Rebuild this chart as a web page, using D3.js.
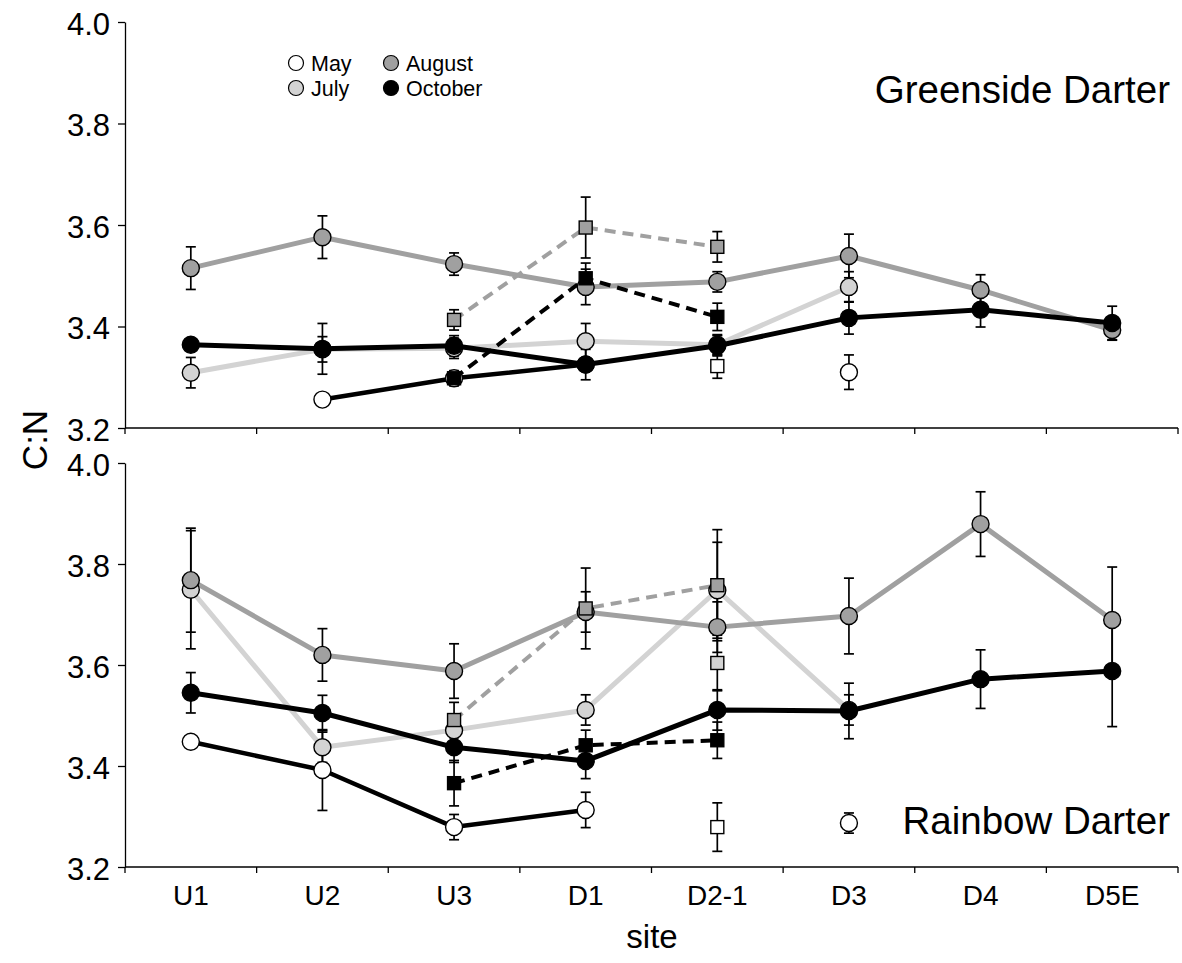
<!DOCTYPE html>
<html>
<head>
<meta charset="utf-8">
<script src="https://cdn.jsdelivr.net/npm/d3@7"></script>
<style>
  body { margin: 0; background: #fff; }
  text { font-family: "Liberation Sans", Arial, sans-serif; fill: #000; }
</style>
</head>
<body>
<div class="chart"></div>
<script>
const width = 1182;
const height = 963;

const sites = ["U1", "U2", "U3", "D1", "D2-1", "D3", "D4", "D5E"];
const yTicks = [3.2, 3.4, 3.6, 3.8, 4.0];

// Greenside Darter (top panel), circles = solid lines
const gdMay = [null, 3.256, 3.298, 3.325, null, 3.310, null, null];
const gdMayErr = [null, 0.006, 0.01, 0.01, null, 0.034, null, null];
const gdJuly = [3.309, 3.355, 3.357, 3.371, 3.364, 3.478, null, null];
const gdJulyErr = [0.03, 0.025, 0.02, 0.035, 0.02, 0.03, null, null];
const gdAug = [3.515, 3.576, 3.523, 3.478, 3.488, 3.539, 3.472, 3.393];
const gdAugErr = [0.042, 0.042, 0.022, 0.035, 0.02, 0.043, 0.03, 0.02];
const gdOct = [3.364, 3.356, 3.362, 3.325, 3.362, 3.417, 3.433, 3.407];
const gdOctErr = [0.01, 0.05, 0.02, 0.03, 0.02, 0.032, 0.034, 0.033];
// squares = dashed lines
const gdMaySq = [null, null, null, null, 3.322, null, null, null];
const gdMaySqErr = [null, null, null, null, 0.024, null, null, null];
const gdAugSq = [null, null, 3.413, 3.595, 3.557, null, null, null];
const gdAugSqErr = [null, null, 0.02, 0.06, 0.03, null, null, null];
const gdOctSq = [null, null, 3.298, 3.495, 3.419, null, null, null];
const gdOctSqErr = [null, null, 0.015, 0.03, 0.027, null, null, null];

// Rainbow Darter (bottom panel)
const rdMay = [3.448, 3.392, 3.279, 3.313, null, 3.287, null, null];
const rdMayErr = [0.005, 0.08, 0.025, 0.035, null, 0.02, null, null];
const rdJuly = [3.749, 3.437, 3.471, 3.511, 3.748, 3.511, null, null];
const rdJulyErr = [0.117, 0.03, 0.03, 0.03, 0.095, 0.03, null, null];
const rdAug = [3.768, 3.620, 3.588, 3.705, 3.675, 3.697, 3.879, 3.689];
const rdAugErr = [0.103, 0.052, 0.054, 0.04, 0.05, 0.075, 0.064, 0.105];
const rdOct = [3.545, 3.505, 3.437, 3.410, 3.511, 3.509, 3.572, 3.588];
const rdOctErr = [0.04, 0.035, 0.03, 0.035, 0.04, 0.055, 0.058, 0.11];
const rdMaySq = [null, null, null, null, 3.279, null, null, null];
const rdMaySqErr = [null, null, null, null, 0.048, null, null, null];
const rdJulySq = [null, null, null, null, 3.604, null, null, null];
const rdJulySqErr = [null, null, null, null, 0.055, null, null, null];
const rdAugSq = [null, null, 3.491, 3.712, 3.758, null, null, null];
const rdAugSqErr = [null, null, 0.035, 0.08, 0.11, null, null, null];
const rdOctSq = [null, null, 3.366, 3.441, 3.451, null, null, null];
const rdOctSqErr = [null, null, 0.045, 0.03, 0.036, null, null, null];

const fills = { May: "#ffffff", July: "#d3d3d3", August: "#a0a0a0", October: "#000000" };
const lineColors = { May: "#000000", July: "#d3d3d3", August: "#a0a0a0", October: "#000000" };

const svg = d3.select(".chart")
              .append("svg")
              .attr("width", width)
              .attr("height", height);

const left = 125;
const right = 1178;

const escalaX = d3.scaleBand().domain(sites).range([left, right]).padding(0);
const cx = (i) => escalaX(sites[i]) + escalaX.bandwidth() / 2;

const panels = [
  {
    top: 22, bottom: 428, title: "Greenside Darter", titleY: 103,
    series: [
      { month: "July", vals: gdJuly, err: gdJulyErr, shape: "circle" },
      { month: "August", vals: gdAug, err: gdAugErr, shape: "circle" },
      { month: "August", vals: gdAugSq, err: gdAugSqErr, shape: "square" },
      { month: "May", vals: gdMay, err: gdMayErr, shape: "circle" },
      { month: "October", vals: gdOct, err: gdOctErr, shape: "circle" },
      { month: "May", vals: gdMaySq, err: gdMaySqErr, shape: "square" },
      { month: "October", vals: gdOctSq, err: gdOctSqErr, shape: "square" },
    ]
  },
  {
    top: 463, bottom: 867, title: "Rainbow Darter", titleY: 834,
    series: [
      { month: "July", vals: rdJuly, err: rdJulyErr, shape: "circle" },
      { month: "August", vals: rdAug, err: rdAugErr, shape: "circle" },
      { month: "August", vals: rdAugSq, err: rdAugSqErr, shape: "square" },
      { month: "May", vals: rdMay, err: rdMayErr, shape: "circle" },
      { month: "October", vals: rdOct, err: rdOctErr, shape: "circle" },
      { month: "July", vals: rdJulySq, err: rdJulySqErr, shape: "square" },
      { month: "May", vals: rdMaySq, err: rdMaySqErr, shape: "square" },
      { month: "October", vals: rdOctSq, err: rdOctSqErr, shape: "square" },
    ]
  }
];

panels.forEach((p, pi) => {
  const escalaY = d3.scaleLinear().domain([3.2, 4.0]).range([p.bottom, p.top]);
  const g = svg.append("g");

  // y axis
  const ejeY = d3.axisLeft(escalaY).tickValues(yTicks).tickFormat(d3.format(".1f"))
                 .tickSize(7).tickSizeOuter(0).tickPadding(8);
  const contY = g.append("g").attr("transform", `translate(${left},0)`).call(ejeY);
  contY.select(".domain").attr("stroke", "#000").attr("stroke-width", 1.3);
  contY.selectAll(".tick line").attr("stroke", "#000").attr("stroke-width", 1.3);
  contY.selectAll("text").attr("font-size", 31).attr("dy", "0.4em")
       .attr("font-family", "Liberation Sans, Arial, sans-serif");

  // x axis line with boundary ticks
  g.append("line").attr("x1", left).attr("x2", right)
   .attr("y1", p.bottom).attr("y2", p.bottom)
   .attr("stroke", "#000").attr("stroke-width", 1.3);
  g.selectAll(".bt").data(d3.range(sites.length + 1)).join("line")
   .attr("class", "bt")
   .attr("x1", (i) => left + i * escalaX.step()).attr("x2", (i) => left + i * escalaX.step())
   .attr("y1", p.bottom).attr("y2", p.bottom + 6)
   .attr("stroke", "#000").attr("stroke-width", 1.3);

  if (pi === 1) {
    g.selectAll(".xl").data(sites).join("text")
     .attr("class", "xl")
     .attr("x", (d, i) => cx(i)).attr("y", p.bottom + 38)
     .attr("text-anchor", "middle").attr("font-size", 28)
     .text((d) => d);
  }

  const line = d3.line()
    .defined((d) => d.v != null)
    .x((d) => cx(d.i))
    .y((d) => escalaY(d.v));

  const toPts = (s) => s.vals.map((v, i) => ({ v, e: s.err[i], i }));

  // lines
  p.series.forEach((s) => {
    g.append("path")
     .datum(toPts(s))
     .attr("d", line)
     .attr("fill", "none")
     .attr("stroke", lineColors[s.month])
     .attr("stroke-width", s.shape === "square" ? 4 : (s.month === "May" ? 4.5 : 5))
     .attr("stroke-dasharray", s.shape === "square" ? "11,7" : null)
     .attr("stroke-linejoin", "round");
  });

  // error bars
  p.series.forEach((s) => {
    const pts = toPts(s).filter((d) => d.v != null && d.e != null);
    const eg = g.append("g").attr("stroke", "#000").attr("stroke-width", 1.7);
    eg.selectAll(".ev").data(pts).join("line").attr("class", "ev")
      .attr("x1", (d) => cx(d.i)).attr("x2", (d) => cx(d.i))
      .attr("y1", (d) => escalaY(d.v - d.e)).attr("y2", (d) => escalaY(d.v + d.e));
    ["+", "-"].forEach((sign) => {
      eg.selectAll(".cap" + (sign === "+" ? "t" : "b")).data(pts).join("line")
        .attr("class", "cap" + (sign === "+" ? "t" : "b"))
        .attr("x1", (d) => cx(d.i) - 5).attr("x2", (d) => cx(d.i) + 5)
        .attr("y1", (d) => escalaY(sign === "+" ? d.v + d.e : d.v - d.e))
        .attr("y2", (d) => escalaY(sign === "+" ? d.v + d.e : d.v - d.e));
    });
  });

  // markers
  p.series.forEach((s) => {
    const pts = toPts(s).filter((d) => d.v != null);
    if (s.shape === "circle") {
      g.append("g").selectAll("circle").data(pts).join("circle")
       .attr("cx", (d) => cx(d.i)).attr("cy", (d) => escalaY(d.v))
       .attr("r", 8.5)
       .attr("fill", fills[s.month]).attr("stroke", "#000").attr("stroke-width", 1.4);
    } else {
      g.append("g").selectAll("rect").data(pts).join("rect")
       .attr("x", (d) => cx(d.i) - 6.5).attr("y", (d) => escalaY(d.v) - 6.5)
       .attr("width", 13).attr("height", 13)
       .attr("fill", fills[s.month]).attr("stroke", "#000").attr("stroke-width", 1.4);
    }
  });

  g.append("text")
   .attr("x", 1170).attr("y", p.titleY)
   .attr("text-anchor", "end").attr("font-size", 38.5)
   .text(p.title);
});

// legend
const legendPos = [
  { m: "May", x: 296, y: 63 },
  { m: "July", x: 296, y: 88 },
  { m: "August", x: 391, y: 63 },
  { m: "October", x: 391, y: 88 },
];
const leg = svg.append("g");
leg.selectAll("circle").data(legendPos).join("circle")
   .attr("cx", (d) => d.x).attr("cy", (d) => d.y).attr("r", 7.5)
   .attr("fill", (d) => fills[d.m]).attr("stroke", "#000").attr("stroke-width", 1.2);
leg.selectAll("text").data(legendPos).join("text")
   .attr("x", (d) => d.x + 15).attr("y", (d) => d.y + 7.5)
   .attr("font-size", 21.5)
   .text((d) => d.m);

// axis titles
svg.append("text")
   .attr("transform", "translate(47,440) rotate(-90)")
   .attr("text-anchor", "middle").attr("font-size", 35)
   .text("C:N");
svg.append("text")
   .attr("x", 652).attr("y", 948)
   .attr("text-anchor", "middle").attr("font-size", 33)
   .text("site");
</script>
</body>
</html>
